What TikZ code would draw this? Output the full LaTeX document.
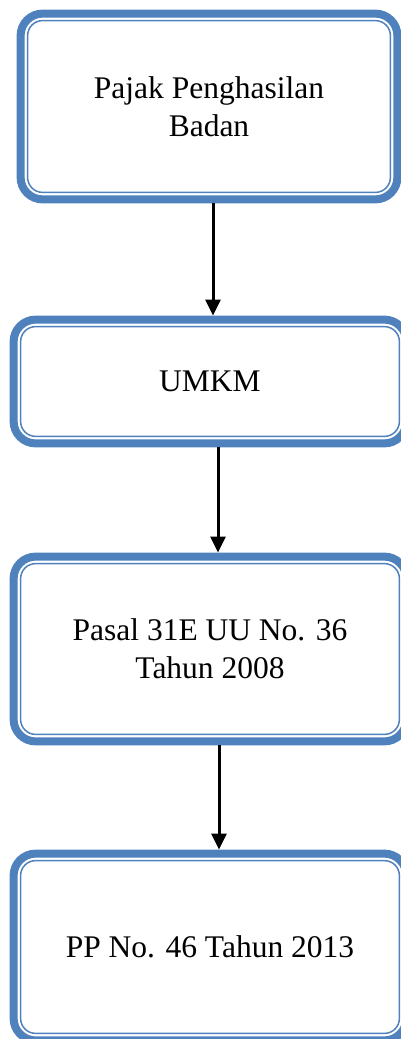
\documentclass[tikz,border=0pt]{standalone}
\usepackage{fontspec}
\setmainfont{Liberation Serif}
\usetikzlibrary{arrows.meta,calc}
\definecolor{bingkai}{RGB}{79,129,189}
\tikzset{
	kotak/.style={inner sep=0pt, align=center, font=\fontsize{15.75}{19}\selectfont},
	garisluar/.style={draw=bingkai, line width=4pt, rounded corners=11pt},
	garisdalam/.style={draw=bingkai, line width=0.75pt, rounded corners=7.5pt},
	panah/.style={-{Triangle[width=7.5pt,length=8pt]}, line width=1.5pt}
}
\begin{document}
\begin{tikzpicture}
	\useasboundingbox (0,0) rectangle (200.5pt,-519.5pt);
	\clip (0,0) rectangle (200.5pt,-519.5pt);

% kotak-kotak
	\node[kotak, minimum width=192pt, minimum height=96.5pt] (pajak) at (104.5pt,-53.25pt) {Pajak Penghasilan\\Badan};
	\node[kotak, minimum width=200pt, minimum height=65.5pt] (umkm) at (105pt,-190.75pt) {UMKM};
	\node[kotak, minimum width=200pt, minimum height=96pt] (pasal) at (105pt,-324.5pt) {Pasal 31E UU No. 36\\Tahun 2008};
	\node[kotak, minimum width=200pt, minimum height=97pt] (pp) at (105pt,-473.5pt) {PP No. 46 Tahun 2013};

% bingkai ganda
	\foreach \n in {pajak,umkm,pasal,pp}{
		\draw[garisluar] ($(\n.south west)+(2pt,2pt)$) rectangle ($(\n.north east)-(2pt,2pt)$);
		\draw[garisdalam] ($(\n.south west)+(5.5pt,5.5pt)$) rectangle ($(\n.north east)-(5.5pt,5.5pt)$);
	}

% panah
	\draw[panah] ([xshift=2pt]pajak.south) -- ([xshift=1.5pt]umkm.north);
	\draw[panah] ([xshift=4pt]umkm.south) -- ([xshift=4pt]pasal.north);
	\draw[panah] ([xshift=4.5pt]pasal.south) -- ([xshift=4.5pt]pp.north);
\end{tikzpicture}
\end{document}
